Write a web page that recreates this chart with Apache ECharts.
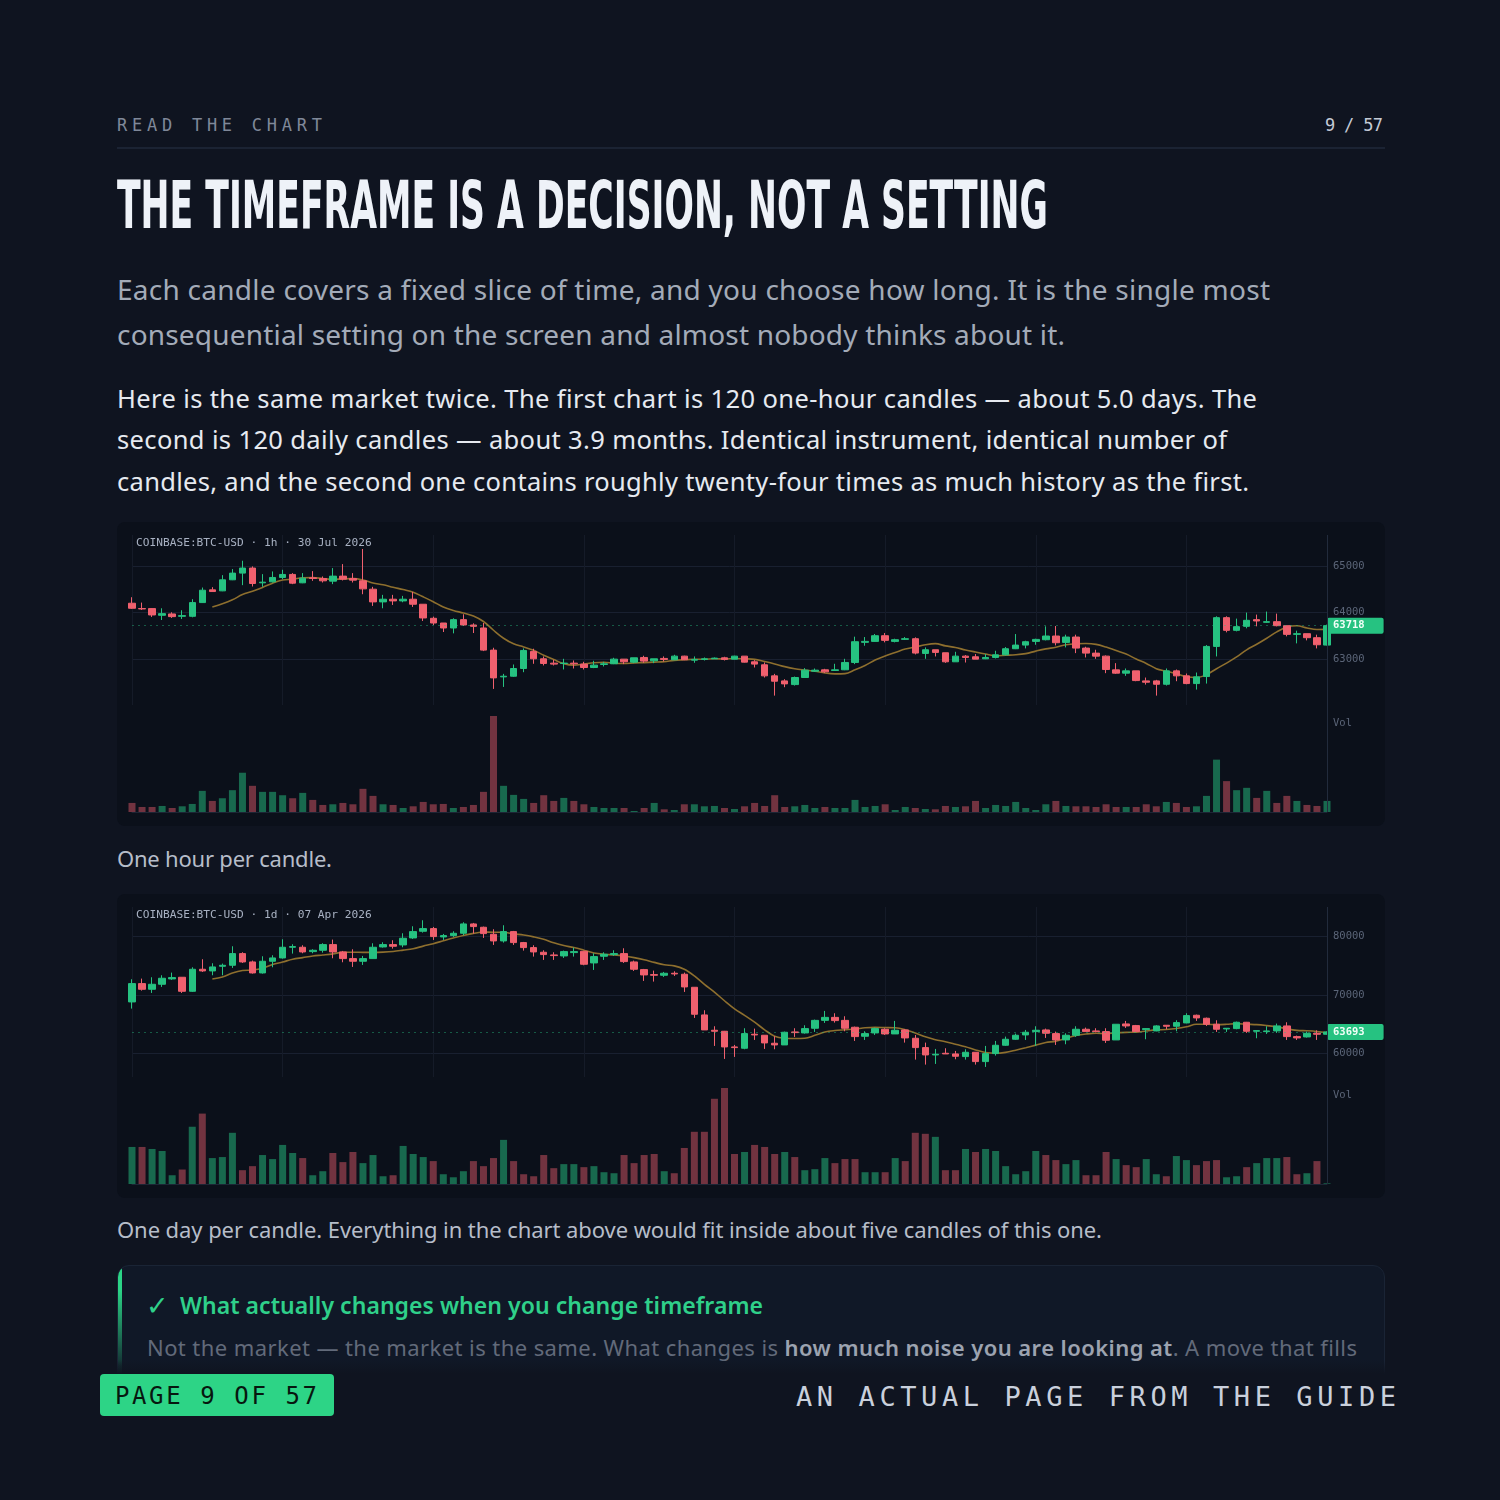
<!DOCTYPE html>
<html><head><meta charset="utf-8">
<script src="https://cdn.jsdelivr.net/npm/echarts@6/dist/echarts.min.js"></script>
<style>
html,body{margin:0;padding:0;background:#0f1420;}
body{width:1500px;height:1500px;position:relative;overflow:hidden;font-family:"Noto Sans",sans-serif;}
.t{position:absolute;white-space:nowrap;line-height:1.2;}
.probe{display:inline-block;width:0;height:0;vertical-align:baseline;}
.kicker{font-family:"DejaVu Sans Mono",monospace;font-size:17px;color:#7f8899;}
.pgno{font-family:"DejaVu Sans Mono",monospace;font-size:17px;color:#c3cad6;}
#rule{position:absolute;left:117px;top:147px;width:1268px;height:2px;background:#1b2333;}
.title{font-family:"Liberation Sans Narrow","DejaVu Sans Condensed","DejaVu Sans",sans-serif;font-weight:bold;font-size:65px;color:#eef2f8;transform-origin:0 0;}
.sub{font-size:28px;color:#a3abb8;}
.body{font-size:25.5px;color:#e6eaf0;}
.cap{font-size:22px;color:#b6bdc9;}
.panel{position:absolute;left:117px;width:1268px;height:304px;background:#0b101a;border-radius:8px;}
#callout{position:absolute;left:117px;top:1265px;width:1268px;height:160px;box-sizing:border-box;background:#101827;border:1px solid #1a2435;border-radius:12px;overflow:hidden;}
#bar{position:absolute;left:0;top:0;width:4px;height:100%;background:linear-gradient(#2bd486 0,#2bd486 24px,rgba(43,212,134,0.12) 100px);}
.check{font-family:"DejaVu Sans",sans-serif;font-weight:bold;font-size:27px;color:#2fd08a;}
.head{font-size:23px;font-weight:600;color:#2fd08a;}
.cbody{font-size:22px;color:#626a7a;}
.cbody b{color:#9ca3b0;font-weight:600;}
#fade{position:absolute;left:0;top:1360px;width:1500px;height:140px;background:linear-gradient(to bottom,rgba(15,20,32,0) 0,#0f1420 14px);}
#badge{position:absolute;left:100px;top:1374px;width:234px;height:42px;background:#2dd486;border-radius:4px;}
.badge{font-family:"DejaVu Sans Mono",monospace;font-size:24px;color:#07170f;}
.foot{font-family:"DejaVu Sans Mono",monospace;font-size:27px;color:#c9d0dc;}
</style></head><body>
<div class="t kicker" data-x="117" data-b="131" data-w="205">READ THE CHART</div>
<div class="t pgno" data-x="1325" data-b="131" data-w="58">9 / 57</div>
<div id="rule"></div>
<div class="t title" data-x="117" data-b="228" data-w="931" data-fit="scale">THE TIMEFRAME IS A DECISION, NOT A SETTING</div>
<div class="t sub" data-x="117" data-b="300" data-w="1153">Each candle covers a fixed slice of time, and you choose how long. It is the single most</div>
<div class="t sub" data-x="117" data-b="345" data-w="948">consequential setting on the screen and almost nobody thinks about it.</div>
<div class="t body" data-x="117" data-b="408" data-w="1140">Here is the same market twice. The first chart is 120 one-hour candles — about 5.0 days. The</div>
<div class="t body" data-x="117" data-b="449" data-w="1110">second is 120 daily candles — about 3.9 months. Identical instrument, identical number of</div>
<div class="t body" data-x="117" data-b="491" data-w="1132">candles, and the second one contains roughly twenty-four times as much history as the first.</div>
<div class="panel" id="p1" style="top:522px"></div>
<div class="t cap" data-x="117" data-b="867" data-w="215">One hour per candle.</div>
<div class="panel" id="p2" style="top:894px"></div>
<div class="t cap" data-x="117" data-b="1238" data-w="985">One day per candle. Everything in the chart above would fit inside about five candles of this one.</div>
<div id="callout"><div id="bar"></div></div>
<div class="t check" data-x="146" data-b="1315">✓</div>
<div class="t head" data-x="180" data-b="1314" data-w="583">What actually changes when you change timeframe</div>
<div class="t cbody" data-x="147" data-b="1356" data-w="1210">Not the market — the market is the same. What changes is <b>how much noise you are looking at</b>. A move that fills</div>
<div id="fade"></div>
<div id="badge"></div>
<div class="t badge" data-x="115" data-b="1404" data-w="202">PAGE 9 OF 57</div>
<div class="t foot" data-x="796" data-b="1406" data-w="600">AN ACTUAL PAGE FROM THE GUIDE</div>
<script>
// ---------- Chart 1: 1h candles ----------
const title1 = 'COINBASE:BTC-USD · 1h · 30 Jul 2026';
const open1 = [64203,64087,64087,63942,63971,63920,63920,64217,64493,64471,64710,64855,64964,64645,64666,64761,64826,64645,64753,64739,64681,64790,64739,64688,64507,64232,64290,64253,64290,64181,63877,63775,63667,63848,63732,63667,63188,62609,62623,62790,63160,63000,62906,62899,62906,62885,62812,62877,62892,62993,62928,63029,62957,63008,62979,63058,62971,62986,63000,63022,62993,63058,62935,62870,62631,62522,62442,62595,62732,62762,62747,62762,62921,63356,63377,63500,63377,63421,63435,63116,63196,63131,62935,63058,63044,63000,63029,63087,63218,63297,63377,63413,63493,63355,63471,63232,63123,63058,62761,62689,62739,62522,62522,62449,62739,62631,62464,62616,63268,63891,63616,63703,63848,63790,63804,63717,63529,63544,63457,63297];
const close1 = [64094,64080,63949,63978,63913,63935,64217,64485,64456,64710,64855,64964,64630,64659,64761,64826,64637,64746,64739,64688,64790,64724,64703,64514,64232,64290,64253,64290,64181,63884,63775,63667,63848,63732,63703,63188,62587,62623,62790,63181,63000,62899,62885,62906,62892,62812,62863,62892,62993,62935,63022,62950,63000,62986,63058,62979,62986,63000,63015,62986,63058,62928,62885,62631,62515,62457,62595,62754,62754,62718,62762,62921,63370,63377,63500,63399,63414,63435,63124,63196,63138,62935,63058,63029,62993,63029,63087,63218,63297,63370,63420,63493,63348,63471,63232,63123,63058,62768,62689,62739,62529,62493,62449,62739,62631,62464,62609,63268,63891,63616,63696,63833,63819,63804,63717,63529,63544,63457,63304,63718];
const high1 = [64333,64217,64094,64094,64007,64051,64290,64543,64550,64811,64942,65123,65000,64833,64891,64927,64855,64855,64898,64782,64964,65050,64855,65377,64558,64384,64384,64362,64449,64181,63913,63775,63877,63964,63768,63775,63239,62674,62877,63225,63218,63051,62979,63000,62964,62935,62957,62935,63022,62993,63022,63066,63000,63051,63087,63066,63051,63029,63029,63044,63066,63058,62971,62921,62674,62558,62616,62798,62790,62783,62892,63000,63479,63471,63537,63558,63435,63471,63464,63247,63196,63131,63152,63080,63102,63102,63174,63254,63536,63391,63435,63703,63710,63522,63522,63261,63196,63073,62906,62790,62739,62594,62544,62790,62768,62681,62703,63297,63920,63920,63870,64000,63957,64022,63978,63717,63609,63544,63522,63740];
const low1 = [64080,64058,63906,63840,63884,63862,63898,64210,64449,64464,64703,64594,64565,64558,64652,64724,64616,64637,64688,64652,64616,64696,64652,64398,64145,64094,64166,64224,64123,63819,63732,63580,63551,63710,63558,63167,62348,62391,62609,62710,62892,62856,62856,62769,62790,62769,62798,62834,62885,62885,62906,62914,62906,62943,62971,62971,62914,62964,63000,62964,62986,62921,62812,62595,62203,62385,62421,62587,62718,62696,62747,62754,62885,63283,63370,63356,63356,63407,63095,63000,63051,62913,62935,62920,62993,62993,63007,63073,63210,63225,63304,63399,63290,63247,63123,63029,63000,62689,62674,62631,62515,62442,62203,62421,62515,62449,62334,62464,63051,63573,63594,63660,63703,63776,63703,63486,63334,63399,63225,63290];
const vol1 = [27,15,15,18,12,17,24,63,33,41,65,117,78,60,60,50,41,57,36,21,23,27,23,69,48,23,21,12,17,30,23,24,12,15,21,60,286,78,51,39,27,50,33,42,33,23,15,12,12,12,3,12,27,8,6,23,23,17,18,12,9,17,27,18,50,15,17,21,12,15,12,12,36,15,18,23,6,15,12,9,8,18,15,17,33,12,21,18,30,12,6,23,33,18,17,17,15,23,15,15,15,23,17,30,27,15,17,48,156,92,65,72,42,63,27,48,33,21,18,33];
const ticks1 = {min:62000, max:65680, interval:1000, labelStep:1000};

// ---------- Chart 2: 1d candles ----------
const title2 = 'COINBASE:BTC-USD · 1d · 07 Apr 2026';
const open2 = [68832,71966,70994,71852,72764,73049,70652,74418,74132,74929,75100,77095,75671,73790,75785,76354,78177,78177,77437,77664,78633,77380,76240,75785,76240,78234,78633,78576,79773,80912,81368,79944,80172,80570,82166,81596,80399,79260,80855,78975,78120,77323,76867,76696,77266,77493,75499,76639,76924,77095,75671,74360,73505,73391,73733,73562,71339,66611,63989,63818,61140,60912,63306,63135,61767,61482,63704,63533,64331,65680,66193,65680,64503,62964,63533,64160,63362,64046,62622,61026,59772,60057,59943,59487,60228,58633,60000,61425,62451,63192,63761,64046,63419,62337,63135,64160,63875,63761,62337,65072,64787,64103,63875,64844,64673,65243,66554,66041,65015,64217,64274,65357,63818,63761,63875,64730,62907,62850,63476,63306];
const close2 = [71966,70994,71852,72878,72992,70652,74418,74132,74815,75100,77095,75671,73790,75785,76354,78177,78291,77380,77664,78633,77380,76240,75785,76240,78177,78633,78348,79716,80855,81368,80000,80172,80570,82166,81710,80513,79260,80855,78975,78120,77380,76924,76753,77437,77437,75271,76582,76981,77095,75727,74418,73448,73391,73733,73619,71396,66725,64046,63818,61140,61026,63419,63192,61824,61482,63647,63590,64274,65680,66193,65641,64331,62907,63419,64274,63362,63989,62679,61026,59772,59886,59943,59544,60228,58633,60000,61425,62451,63135,63647,63989,63476,62337,63135,64160,63761,63761,62280,65015,64730,63761,64274,64730,64673,65300,66497,66098,65015,64160,64331,65357,63818,63932,63875,64730,62907,62679,63476,63306,63693];
const high2 = [72707,72821,73049,73391,73847,73049,74758,76126,75442,75385,78348,77323,75899,76639,76810,79544,78690,78519,77835,78861,79488,77550,77835,76696,78861,79032,79374,80570,81767,82793,81653,80456,80912,82451,82337,81710,81254,81938,80969,79089,78519,77664,77323,77607,78120,77550,77152,77323,77664,78006,75899,74473,74189,73961,74075,73847,71339,67409,64673,63875,61482,64331,64274,63135,62964,63761,64331,64844,65813,67295,66896,66383,64616,63818,64445,64331,65584,64160,63192,61881,60798,60912,60456,60741,60228,61311,62166,62907,63419,64046,64673,64274,63761,63476,64673,64445,64331,64331,65015,65584,64901,64331,64844,64844,65699,66896,66668,66155,65699,64331,65471,65414,63989,64673,65129,65357,63078,63761,63989,63800];
const low2 = [67693,70766,70367,71396,72593,70367,70538,73961,73391,73391,74645,75499,73676,73676,74758,76240,77095,77152,77152,77266,76297,75613,74815,75157,76183,78120,77949,78177,79601,80684,79431,79431,79944,80228,80513,79773,78576,78975,78576,77607,76582,76012,76012,76354,76582,75100,74303,76012,76696,75499,74132,72422,72309,73107,73277,70539,66098,64046,61311,59089,59431,60741,62337,60798,60741,61482,62850,63419,63704,65243,65300,63818,62166,62337,63192,63192,63362,61881,58975,58120,58234,59943,59032,58975,58120,57722,59658,61311,62337,62337,61311,62679,61482,61596,62850,63761,63647,61824,62337,64388,63761,62451,63818,64160,63818,65186,65584,64730,63704,63704,64160,63533,62622,63362,63533,62337,62337,62736,62337,63250];
const vol2 = [110,110,104,98,26,43,170,209,77,80,152,41,53,86,74,116,92,77,26,38,92,65,95,62,86,23,26,113,89,80,68,29,20,38,68,53,77,131,68,29,23,86,47,59,59,50,53,35,32,86,62,86,89,38,32,107,155,155,253,285,89,95,116,110,89,95,80,41,44,77,62,74,74,35,35,35,77,68,152,149,140,41,41,104,95,104,98,53,29,38,98,86,71,59,71,26,26,95,74,56,50,74,29,23,83,71,56,68,71,20,23,50,62,77,77,80,29,32,68,2];
const ticks2 = {min:56000, max:85060, interval:2000, labelStep:10000};

// category labels (time stamps, not displayed)
function hourCats(n){const a=[];const end=Date.UTC(2026,6,30,12);for(let i=n-1;i>=0;i--){const d=new Date(end-i*3600e3);a.push(d.toISOString().slice(0,13)+'h');}return a;}
function dayCats(n){const a=[];const end=Date.UTC(2026,3,7);for(let i=n-1;i>=0;i--){const d=new Date(end-i*86400e3);a.push(d.toISOString().slice(0,10));}return a;}
const cats1 = hourCats(open1.length);
const cats2 = dayCats(open2.length);

// ---------- text placement ----------
document.querySelectorAll('.t').forEach(el=>{
  const x=+el.dataset.x,b=+el.dataset.b,w=el.dataset.w?+el.dataset.w:0;
  el.style.left=x+'px';el.style.top='0px';
  const probe=document.createElement('span');probe.className='probe';el.appendChild(probe);
  if(w){
    el.style.letterSpacing='0px';
    const nat=el.getBoundingClientRect().width;
    if(el.dataset.fit==='scale'){el.style.transform='scaleX('+(w/nat)+')';}
    else{const n=el.textContent.length;el.style.letterSpacing=((w-nat)/(n-1))+'px';}
  }
  el.style.top=(b-probe.offsetTop)+'px';
});

// ---------- charts ----------
const MONO='"DejaVu Sans Mono", monospace';
const UP='#26c281', DN='#f0606e', VUP='rgba(38,194,129,0.5)', VDN='rgba(240,96,110,0.45)';
const GRIDC='#192030', T='rgba(0,0,0,0)';
function sma(arr,p){return arr.map((v,i)=>{if(i<p-1)return '-';let s=0;for(let k=i-p+1;k<=i;k++)s+=arr[k];return +(s/p).toFixed(1);});}
function buildOption(title,cats,open,close,high,low,vol,tk){
  const candles=open.map((o,i)=>[o,close[i],low[i],high[i]]);
  const ma=sma(close,9);
  const last=close[close.length-1];
  const volData=vol.map((v,i)=>({value:v,itemStyle:{color:close[i]>=open[i]?VUP:VDN}}));
  const nTicks=Math.floor((tk.max-tk.min)/tk.interval)+2;
  const colors=[];
  for(let k=0;k<nTicks;k++){const v=tk.min+k*tk.interval;colors.push((k>0&&v<tk.max&&v%tk.labelStep===0)?GRIDC:T);}
  return {
    animation:false,
    backgroundColor:'transparent',
    grid:[{left:15,top:13,width:1195,height:170},{left:15,top:194,width:1195,height:96}],
    xAxis:[
      {type:'category',data:cats,gridIndex:0,boundaryGap:false,axisLine:{show:false},axisTick:{show:false},axisLabel:{show:false},
       splitLine:{show:true,interval:14,lineStyle:{color:'#151b28',width:1}}},
      {type:'category',data:cats,gridIndex:1,boundaryGap:false,position:'top',axisLine:{show:true,lineStyle:{color:'#1d2535',width:1}},
       axisTick:{show:false},axisLabel:{show:false},splitLine:{show:false}}
    ],
    yAxis:[
      {type:'value',gridIndex:0,position:'right',min:tk.min,max:tk.max,interval:tk.interval,axisLine:{show:false},axisTick:{show:false},
       axisLabel:{color:'#5b6578',fontFamily:MONO,fontSize:10.5,margin:6,showMinLabel:false,showMaxLabel:false,
         formatter:v=>(v%tk.labelStep===0?String(v):'')},
       splitLine:{show:true,lineStyle:{color:colors,width:1}}},
      {type:'value',gridIndex:1,position:'right',min:0,max:'dataMax',axisLine:{show:false},axisTick:{show:false},axisLabel:{show:false},splitLine:{show:false}}
    ],
    series:[
      {type:'line',data:ma,xAxisIndex:0,yAxisIndex:0,showSymbol:false,smooth:0.35,silent:true,z:1,
       lineStyle:{color:'#8e6f2e',width:1.6}},
      {type:'candlestick',data:candles,xAxisIndex:0,yAxisIndex:0,barWidth:7,clip:false,silent:true,z:3,
       itemStyle:{color:UP,color0:DN,borderColor:UP,borderColor0:DN,borderWidth:1},
       markLine:{symbol:['none','none'],silent:true,animation:false,precision:0,
         lineStyle:{color:'rgba(38,194,129,0.42)',type:[2,4],width:1},
         label:{show:true,position:'end',distance:0,formatter:String(last),backgroundColor:UP,color:'#f2fff8',
           fontFamily:MONO,fontSize:10.5,fontWeight:'bold',padding:[3,19,2,6],borderRadius:2},
         emphasis:{disabled:true},
         data:[{yAxis:last}]}},
      {type:'bar',data:volData,xAxisIndex:1,yAxisIndex:1,barWidth:7,clip:false,silent:true}
    ],
    graphic:[
      {type:'line',shape:{x1:1210.5,y1:13,x2:1210.5,y2:290},style:{stroke:'#222b3c',lineWidth:1},z:10,silent:true},
      {type:'text',x:19,y:21,style:{text:title,fill:'#a8b1c2',font:'11.2px "DejaVu Sans Mono"',verticalAlign:'middle'},silent:true},
      {type:'text',x:1216,y:201,style:{text:'Vol',fill:'#5b6578',font:'10.5px "DejaVu Sans Mono"',verticalAlign:'middle'},silent:true}
    ]
  };
}
const c1=echarts.init(document.getElementById('p1'));
c1.setOption(buildOption(title1,cats1,open1,close1,high1,low1,vol1,ticks1));
const c2=echarts.init(document.getElementById('p2'));
c2.setOption(buildOption(title2,cats2,open2,close2,high2,low2,vol2,ticks2));
</script>
</body></html>
